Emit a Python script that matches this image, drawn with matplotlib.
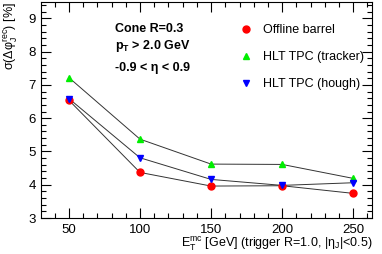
import matplotlib
matplotlib.use("Agg")
import matplotlib.pyplot as plt
from matplotlib.ticker import MultipleLocator

plt.rcParams['font.family'] = ['Liberation Sans', 'DejaVu Sans']
plt.rcParams['mathtext.fontset'] = 'custom'
plt.rcParams['mathtext.rm'] = 'Liberation Sans'
plt.rcParams['mathtext.it'] = 'Liberation Sans:italic'
plt.rcParams['mathtext.bf'] = 'Liberation Sans:bold'

et = [50, 100, 150, 200, 250]
offline = [6.54, 4.37, 3.96, 3.97, 3.74]
tracker = [7.22, 5.37, 4.62, 4.61, 4.19]
hough = [6.59, 4.81, 4.16, 3.98, 4.06]

series = [
    ("Offline barrel", offline, 'o', 'red'),
    ("HLT TPC (tracker)", tracker, '^', '#00ee00'),
    ("HLT TPC (hough)", hough, 'v', 'blue'),
]

fig = plt.figure(figsize=(3.82, 2.54), dpi=100)
ax = fig.add_axes([0.1073, 0.1417, 0.867, 0.849])

for name, vals, m, c in series:
    ax.plot(et, vals, '-', color='#333333', lw=0.7, zorder=2)
for name, vals, m, c in series:
    ax.plot(et, vals, linestyle='none', marker=m, color=c, ms=5, label=name, zorder=3)

ax.set_xlim(30.4, 263.3)
ax.set_ylim(3, 9.48)
ax.xaxis.set_major_locator(MultipleLocator(50))
ax.xaxis.set_minor_locator(MultipleLocator(10))
ax.yaxis.set_major_locator(MultipleLocator(1))
ax.yaxis.set_minor_locator(MultipleLocator(0.2))
ax.tick_params(which='both', direction='in', top=True, right=True, labelsize=9.5, width=0.8)
ax.tick_params(which='major', length=7)
ax.tick_params(which='minor', length=3.5)
ax.tick_params(axis='x', pad=4)
for s in ax.spines.values():
    s.set_linewidth(0.8)

ax.set_xlabel(r'E$_{\rm T}^{\rm mc}$ [GeV] (trigger R=1.0, |η$_{\rm J}$|<0.5)', fontsize=9, ha='right')
ax.xaxis.set_label_coords(1.0, -0.083)
ax.xaxis.label.set_va('top')
ax.set_ylabel(r'σ(Δφ$_{\rm J}^{\rm rec}$) [%]', fontsize=9, ha='right')
ax.yaxis.set_label_coords(-0.065, 1.0)

ax.text(0.224, 0.862, 'Cone R=0.3', transform=ax.transAxes, fontsize=9, fontweight='bold')
ax.text(0.224, 0.783, r'p$_{\bf T}$ > 2.0 GeV', transform=ax.transAxes, fontsize=9, fontweight='bold')
ax.text(0.224, 0.68, '-0.9 < η < 0.9', transform=ax.transAxes, fontsize=9, fontweight='bold')

ax.legend(loc='upper left', bbox_to_anchor=(0.575, 0.922), frameon=False, fontsize=9,
          handletextpad=0.5, labelspacing=1.2, borderaxespad=0, handlelength=1.6)

fig.savefig("out.png", dpi=100)
